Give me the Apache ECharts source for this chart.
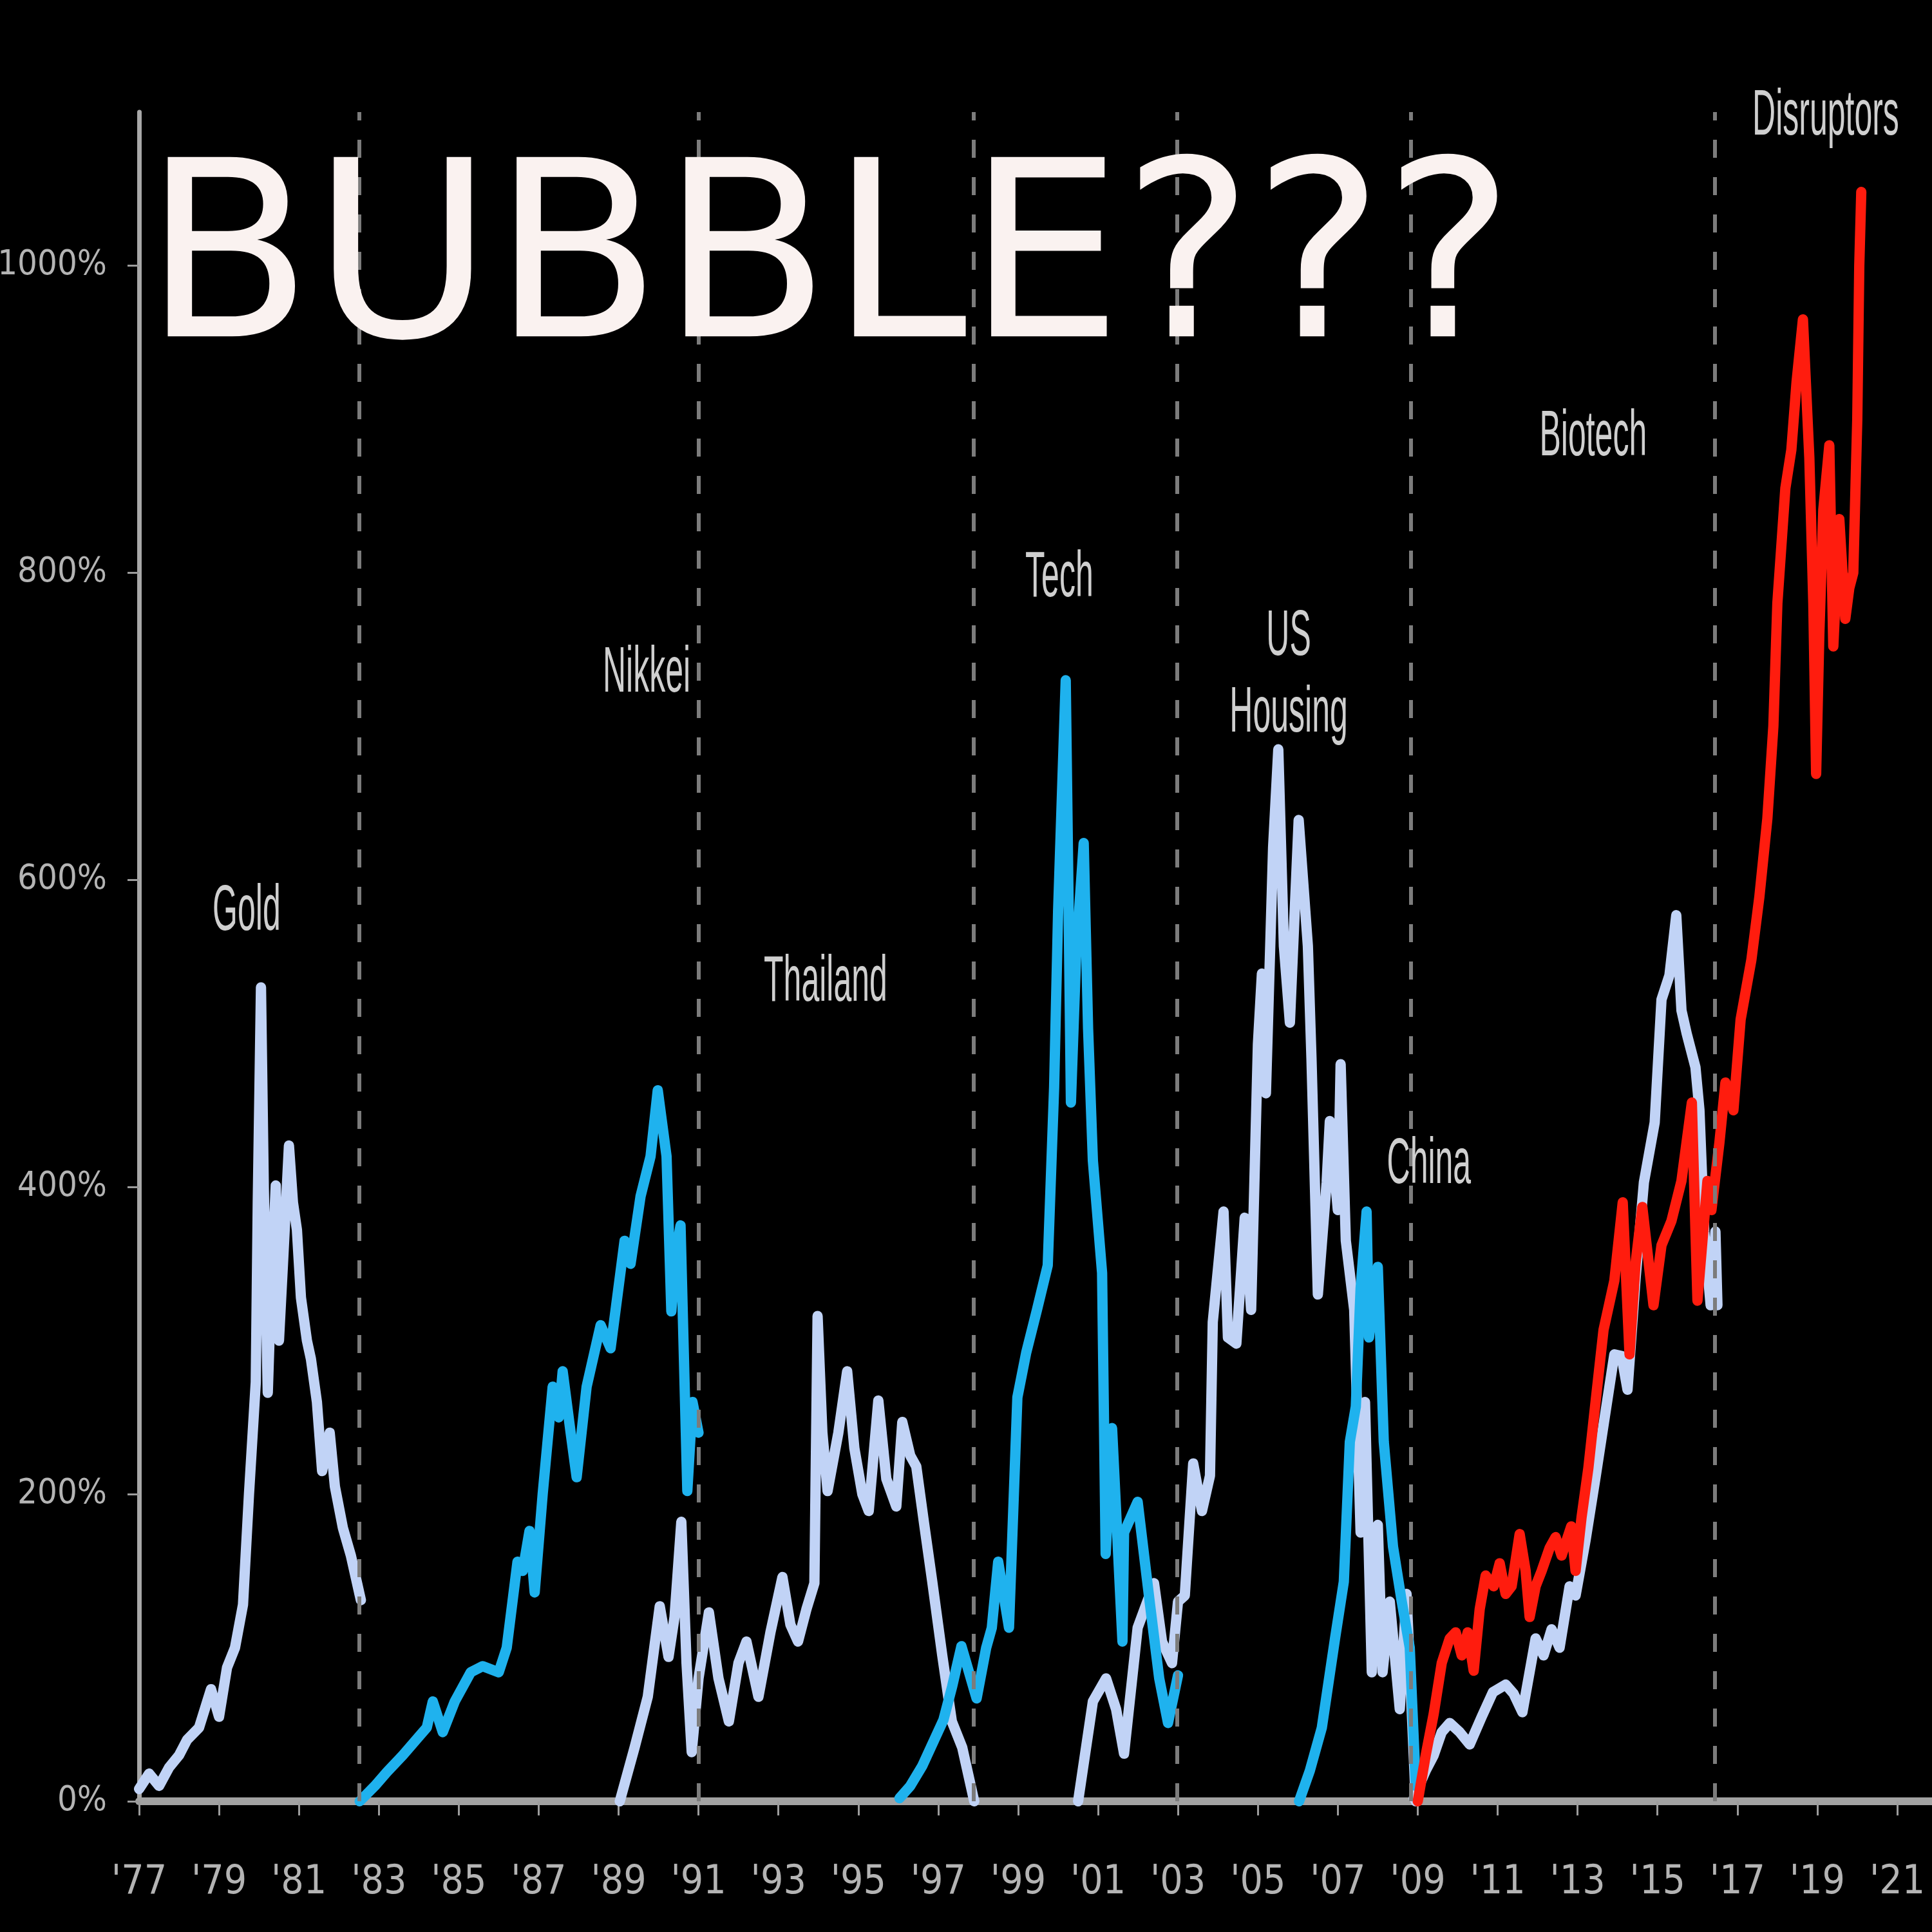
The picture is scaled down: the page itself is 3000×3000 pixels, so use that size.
<!DOCTYPE html>
<html>
<head>
<meta charset="utf-8">
<script src="https://cdn.jsdelivr.net/npm/echarts@6/dist/echarts.min.js"></script>
<style>
html,body{margin:0;padding:0;background:#000;}
#chart{width:3000px;height:3000px;}
</style>
</head>
<body>
<div id="chart"></div>
<script>
// ---- Data (x = year, y = % gain) ----
const gold = [[1977.0,8],[1977.25,18],[1977.5,10],[1977.75,22],[1978.0,30],[1978.2,40],[1978.5,48],[1978.8,73],[1979.0,55],[1979.2,87],[1979.4,100],[1979.6,128],[1979.75,200],[1979.92,273],[1979.97,390],[1980.05,530],[1980.12,400],[1980.22,266],[1980.3,330],[1980.42,401],[1980.5,300],[1980.6,350],[1980.75,427],[1980.85,390],[1980.95,372],[1981.05,328],[1981.2,300],[1981.3,288],[1981.45,260],[1981.58,215],[1981.77,240],[1981.9,205],[1982.1,178],[1982.3,160],[1982.55,131]];
const nikkei = [[1982.52,0],[1982.9,10],[1983.2,19],[1983.6,30],[1984.0,42],[1984.2,48],[1984.35,65],[1984.6,45],[1984.9,65],[1985.3,84],[1985.6,88],[1986.0,84],[1986.2,100],[1986.47,156],[1986.6,150],[1986.77,176],[1986.9,136],[1987.1,200],[1987.35,270],[1987.5,250],[1987.6,280],[1987.8,240],[1987.95,211],[1988.2,270],[1988.55,310],[1988.8,295],[1989.15,365],[1989.3,350],[1989.55,394],[1989.8,420],[1989.98,463],[1990.2,420],[1990.32,319],[1990.45,360],[1990.55,375],[1990.72,202],[1990.85,260],[1991.0,240]];
const thailand = [[1989.03,0],[1989.4,35],[1989.73,68],[1990.03,127],[1990.25,94],[1990.4,120],[1990.57,182],[1990.7,90],[1990.83,32],[1991.0,80],[1991.26,123],[1991.5,80],[1991.76,52],[1992.0,90],[1992.2,104],[1992.5,68],[1992.8,110],[1993.1,146],[1993.3,115],[1993.49,104],[1993.7,125],[1993.9,142],[1993.98,316],[1994.1,240],[1994.23,202],[1994.5,240],[1994.72,280],[1994.9,230],[1995.1,200],[1995.26,189],[1995.5,261],[1995.7,210],[1995.95,192],[1996.1,247],[1996.3,225],[1996.45,218],[1996.65,180],[1996.85,143],[1997.1,95],[1997.34,52],[1997.6,35],[1997.9,0]];
const tech = [[1996.03,2],[1996.3,10],[1996.6,23],[1996.9,40],[1997.13,53],[1997.35,75],[1997.58,101],[1997.96,67],[1998.2,100],[1998.34,113],[1998.5,156],[1998.77,113],[1998.98,263],[1999.2,292],[1999.47,320],[1999.74,349],[1999.9,465],[2000.0,580],[2000.19,730],[2000.25,609],[2000.32,455],[2000.45,551],[2000.64,624],[2000.75,503],[2000.87,417],[2001.1,344],[2001.19,161],[2001.35,243],[2001.61,104],[2001.65,175],[2001.99,195],[2002.3,128],[2002.53,80],[2002.75,51],[2003.0,82]];
const usHousing = [[2000.5,0],[2000.87,65],[2001.2,80],[2001.45,60],[2001.65,31],[2001.99,113],[2002.4,142],[2002.6,104],[2002.85,90],[2003.0,130],[2003.17,134],[2003.38,220],[2003.6,189],[2003.8,212],[2003.87,312],[2004.14,384],[2004.25,302],[2004.46,298],[2004.67,380],[2004.83,320],[2005.0,493],[2005.1,539],[2005.2,461],[2005.38,621],[2005.51,685],[2005.65,557],[2005.8,507],[2006.02,639],[2006.25,557],[2006.34,484],[2006.5,330],[2006.72,403],[2006.8,443],[2007.0,385],[2007.07,480],[2007.2,365],[2007.41,320],[2007.57,175],[2007.68,260],[2007.85,84],[2008.0,180],[2008.12,84],[2008.3,130],[2008.55,60],[2008.72,135],[2008.95,0]];
const china = [[2006.03,0],[2006.3,20],[2006.6,48],[2006.93,106],[2007.15,143],[2007.3,234],[2007.45,257],[2007.57,334],[2007.72,384],[2007.78,302],[2008.0,348],[2008.15,234],[2008.38,166],[2008.6,130],[2008.8,100],[2008.95,10]];
const biotech = [[2008.9,2],[2009.2,20],[2009.4,30],[2009.6,45],[2009.8,51],[2010.05,45],[2010.3,37],[2010.6,55],[2010.88,71],[2011.2,76],[2011.4,70],[2011.62,58],[2011.95,106],[2012.15,95],[2012.35,112],[2012.55,100],[2012.8,140],[2012.95,134],[2013.2,170],[2013.45,211],[2013.92,291],[2014.1,290],[2014.25,268],[2014.45,340],[2014.66,403],[2014.93,442],[2015.1,522],[2015.3,538],[2015.47,577],[2015.6,515],[2015.73,500],[2015.95,478],[2016.05,450],[2016.17,371],[2016.33,323],[2016.45,371],[2016.5,323]];
const disruptors = [[2009.0,0],[2009.2,30],[2009.4,57],[2009.6,90],[2009.8,106],[2009.95,110],[2010.1,95],[2010.25,110],[2010.4,85],[2010.55,125],[2010.7,147],[2010.9,140],[2011.05,155],[2011.2,135],[2011.35,140],[2011.55,174],[2011.7,150],[2011.8,120],[2011.95,140],[2012.1,150],[2012.3,165],[2012.45,172],[2012.6,160],[2012.84,179],[2012.95,150],[2013.1,185],[2013.27,217],[2013.45,260],[2013.65,307],[2013.92,339],[2014.13,390],[2014.3,291],[2014.45,350],[2014.62,387],[2014.9,323],[2015.1,362],[2015.35,378],[2015.6,404],[2015.86,455],[2016.0,326],[2016.25,404],[2016.35,385],[2016.55,429],[2016.7,468],[2016.9,450],[2017.08,509],[2017.35,548],[2017.55,589],[2017.75,640],[2017.9,700],[2018.0,780],[2018.2,855],[2018.35,880],[2018.48,924],[2018.64,965],[2018.8,875],[2018.9,780],[2018.97,669],[2019.05,760],[2019.15,841],[2019.3,883],[2019.4,752],[2019.55,835],[2019.7,770],[2019.8,790],[2019.9,800],[2020.0,900],[2020.05,1000],[2020.1,1048]];

// Era dividers (dashed verticals), x-axis tick years and labels, y ticks
const dividers = [1982.5, 1991.0, 1997.88, 2002.97, 2008.82, 2016.44];
const xTickYears = [1977,1979,1981,1983,1985,1987,1989,1991,1993,1995,1997,1999,2001,2003,2005,2007,2009,2011,2013,2015,2017,2019,2021];
const xTickLabels = ["'77","'79","'81","'83","'85","'87","'89","'91","'93","'95","'97","'99","'01","'03","'05","'07","'09","'11","'13","'15","'17","'19","'21"];
const yTicks = [0,200,400,600,800,1000];

// Bubble names and their anchor points (data coords)
const annoText = ['Gold','Nikkei','Thailand','Tech','US','Housing','China','Biotech','Disruptors'];
const annoAt = [[1979.69,579],[1989.70,734],[1994.18,533],[2000.03,796],[2005.77,758],[2005.77,708],[2009.28,414],[2013.39,888],[2019.21,1097]];
const title = 'BUBBLE???';

const LIGHT = '#c1d3f6', CYAN = '#1fb2ee', RED = '#ff1c0e';
const LABEL_FONT = "'Liberation Sans Narrow','DejaVu Sans Condensed','Liberation Sans',sans-serif";

function lineSeries(name, data, color, extra) {
  return Object.assign({
    name: name, type: 'line', data: data, showSymbol: false, symbol: 'none',
    lineStyle: {color: color, width: 16, join: 'round', cap: 'round'},
    itemStyle: {color: color}, silent: true, animation: false
  }, extra || {});
}

const chart = echarts.init(document.getElementById('chart'), null, {renderer: 'canvas'});
chart.setOption({
  backgroundColor: '#000000',
  animation: false,
  grid: {left: 216, right: 0, top: 174, bottom: 203, containLabel: false, outerBoundsMode: 'none'},
  xAxis: {
    type: 'value', min: 1977, max: 2021.87,
    axisLine: {show: true, onZero: false, lineStyle: {color: '#a2a2a2', width: 12}},
    axisTick: {show: true, customValues: xTickYears, length: 22, lineStyle: {color: '#9c9c9c', width: 3}},
    axisLabel: {
      customValues: xTickYears, margin: 96, color: '#b4b4b4', fontSize: 62, fontFamily: LABEL_FONT,
      formatter: function (v) { const i = xTickYears.indexOf(Math.round(v)); return i >= 0 ? xTickLabels[i] : ''; }
    },
    splitLine: {show: false}
  },
  yAxis: {
    type: 'value', min: 0, max: 1100,
    axisLine: {show: true, lineStyle: {color: '#a8a8a8', width: 7}},
    axisTick: {show: true, customValues: yTicks, length: 18, lineStyle: {color: '#9c9c9c', width: 3}},
    axisLabel: {customValues: yTicks, margin: 50, color: '#b4b4b4', fontSize: 54, fontFamily: LABEL_FONT,
      formatter: function (v) { return v + '%'; }},
    splitLine: {show: false}
  },
  series: [
    lineSeries('Gold', gold, LIGHT, {
      markLine: {
        silent: true, symbol: ['none','none'], label: {show: false},
        lineStyle: {color: '#7c7c7c', type: [28, 30], width: 6},
        data: dividers.map(function (d) { return {xAxis: d}; })
      }
    }),
    lineSeries('Thailand', thailand, LIGHT),
    lineSeries('US Housing', usHousing, LIGHT),
    lineSeries('Biotech', biotech, LIGHT),
    lineSeries('Nikkei', nikkei, CYAN),
    lineSeries('Tech', tech, CYAN),
    lineSeries('China', china, CYAN),
    lineSeries('Disruptors', disruptors, RED)
  ]
});

const graphics = [{
  type: 'text', x: 223, y: 423, z: 100,
  style: {text: title, fontSize: 382, fontFamily: "'DejaVu Sans',sans-serif", fill: '#faf2f0', align: 'left', verticalAlign: 'middle'}
}];
annoText.forEach(function (t, i) {
  const p = chart.convertToPixel({gridIndex: 0}, annoAt[i]);
  graphics.push({
    type: 'text', x: p[0], y: p[1], scaleX: 0.5, scaleY: 1, z: 100,
    style: {text: t, fontSize: 100, fontFamily: "'Liberation Sans',sans-serif", fill: '#cfcfcf', align: 'center', verticalAlign: 'middle'}
  });
});
chart.setOption({graphic: graphics});
</script>
</body>
</html>
